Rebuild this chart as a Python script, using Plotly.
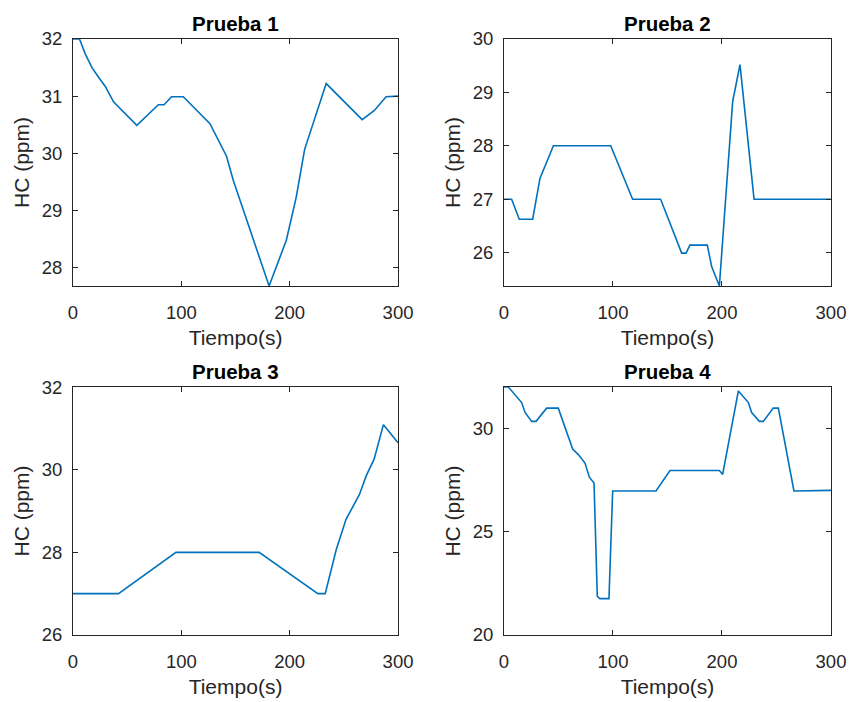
import plotly.graph_objects as go

# ---- data ----
t1 = [0, 6, 11.3, 17.5, 23.6, 29.8, 37.4, 58.9, 78.8, 84, 91, 101.8, 126.4, 141.7, 147.9, 155.5, 181, 196.9, 206, 213.8, 233.7, 266.9, 278.2, 289, 300]
hc1 = [32.0, 32.0, 31.74, 31.5, 31.33, 31.17, 30.9, 30.49, 30.85, 30.85, 30.99, 30.99, 30.52, 29.95, 29.53, 29.1, 27.68, 28.48, 29.23, 30.07, 31.22, 30.59, 30.75, 30.99, 31.0]

t2 = [0, 7, 14, 26.3, 33, 45.3, 97.9, 118, 143.7, 163, 167, 170.6, 186.5, 190.5, 197.6, 209.8, 216.5, 229.4, 300]
hc2 = [27.0, 27.0, 26.625, 26.625, 27.39, 28.0, 28.0, 27.0, 27.0, 25.99, 25.99, 26.14, 26.14, 25.74, 25.375, 28.83, 29.52, 27.0, 27.0]

t3 = [0, 42, 95, 171.8, 226, 232.8, 243, 252, 264.4, 270.6, 278, 286.5, 292, 300]
hc3 = [27.0, 27.0, 28.0, 28.0, 27.0, 27.0, 28.07, 28.8, 29.4, 29.85, 30.26, 31.09, 30.91, 30.65]

t4 = [0, 4, 16.2, 19.3, 25.4, 29.4, 39.1, 49.8, 63, 68.2, 74.3, 78.3, 82.6, 85.6, 88, 96.3, 99.7, 139.4, 152.3, 197.6, 200.6, 215, 224.2, 227.2, 234.3, 237.9, 247, 251.7, 266, 300]
hc4 = [32.0, 32.0, 31.25, 30.77, 30.34, 30.34, 30.98, 30.98, 29.0, 28.73, 28.32, 27.64, 27.36, 21.87, 21.76, 21.76, 26.97, 26.97, 27.96, 27.96, 27.77, 31.81, 31.25, 30.77, 30.34, 30.34, 30.98, 30.98, 26.97, 27.0]

titles = ["Prueba 1", "Prueba 2", "Prueba 3", "Prueba 4"]
x_label = "Tiempo(s)"
y_label = "HC (ppm)"
x_ticks = [0, 100, 200, 300]
y_ticks = [[28, 29, 30, 31, 32], [26, 27, 28, 29, 30], [26, 28, 30, 32], [20, 25, 30]]
y_ranges = [[27.68, 32], [25.375, 30], [26, 32], [20, 32]]

series = [(t1, hc1), (t2, hc2), (t3, hc3), (t4, hc4)]

# ---- layout geometry ----
W, H = 851, 702
ml, mr, mt, mb = 73, 20, 39, 67
xdoms = [[0, 0.4288], [0.5686, 1.0]]
ydoms = [[0.5856, 1.0], [0.0, 0.416]]

FONT = "Liberation Sans, Arial, sans-serif"
AX_COLOR = "#262626"
LINE_COLOR = "#0072BD"

fig = go.Figure()
layout = dict(
    width=W, height=H,
    margin=dict(l=ml, r=mr, t=mt, b=mb, autoexpand=False),
    paper_bgcolor="white", plot_bgcolor="white",
    showlegend=False,
    font=dict(family=FONT, color=AX_COLOR, size=18),
    annotations=[],
)

for i, (t, v) in enumerate(series):
    k = i + 1
    xa = "x" if k == 1 else f"x{k}"
    ya = "y" if k == 1 else f"y{k}"
    fig.add_trace(go.Scatter(x=t, y=v, mode="lines", xaxis=xa, yaxis=ya,
                             line=dict(color=LINE_COLOR, width=1.6)))
    row, col = divmod(i, 2)
    xd, yd = xdoms[col], ydoms[row]
    xkey = "xaxis" if k == 1 else f"xaxis{k}"
    ykey = "yaxis" if k == 1 else f"yaxis{k}"
    layout[xkey] = dict(
        domain=xd, anchor=ya, range=[0, 300], tickvals=x_ticks,
        ticks="inside", ticklen=5, tickcolor=AX_COLOR, tickwidth=1,
        showline=True, linecolor=AX_COLOR, linewidth=1, mirror="ticks",
        showgrid=False, zeroline=False, automargin=False,
        tickfont=dict(size=18.5, color=AX_COLOR, family=FONT),
        ticklabelstandoff=10,
        title=dict(text=x_label, font=dict(size=21, color=AX_COLOR, family=FONT), standoff=8),
    )
    layout[ykey] = dict(
        domain=yd, anchor=xa, range=y_ranges[i], tickvals=y_ticks[i],
        ticks="inside", ticklen=5, tickcolor=AX_COLOR, tickwidth=1,
        showline=True, linecolor=AX_COLOR, linewidth=1, mirror="ticks",
        showgrid=False, zeroline=False, automargin=False,
        tickfont=dict(size=18.5, color=AX_COLOR, family=FONT),
        ticklabelstandoff=6,
        title=dict(text=y_label, font=dict(size=21, color=AX_COLOR, family=FONT), standoff=6),
    )
    layout["annotations"].append(dict(
        text=f"<b>{titles[i]}</b>", xref="paper", yref="paper",
        x=(xd[0] + xd[1]) / 2, y=yd[1], xanchor="center", yanchor="bottom",
        yshift=2, showarrow=False,
        font=dict(size=20.5, color="black", family=FONT),
    ))

fig.update_layout(**layout)
fig.write_html("out.html")
